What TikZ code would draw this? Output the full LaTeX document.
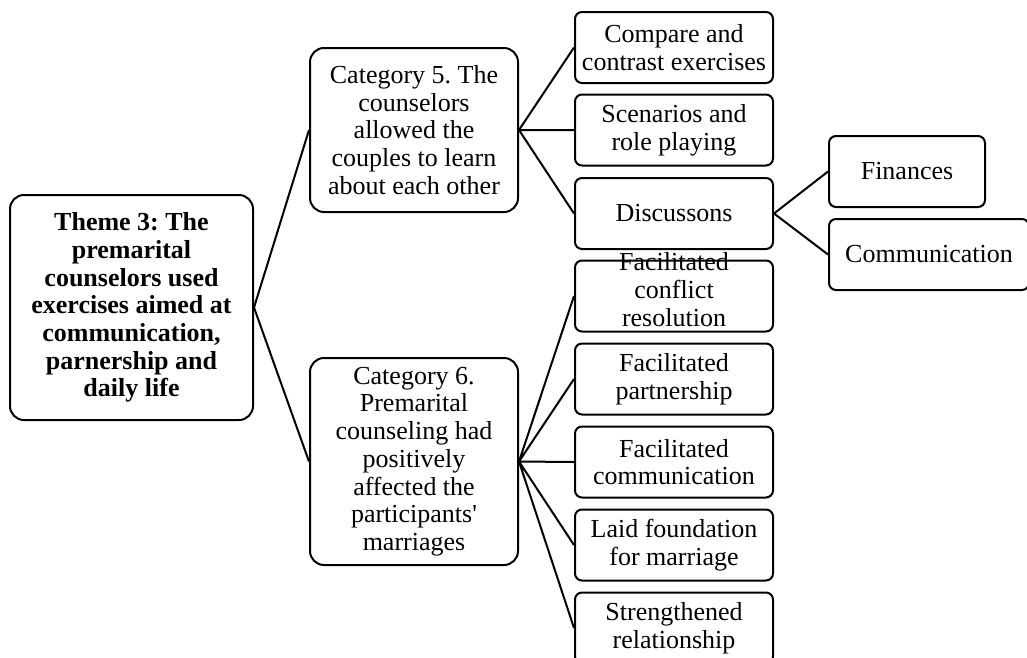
\documentclass[tikz,border=0pt]{standalone}
\usepackage{fontspec}
\setmainfont{Liberation Serif}
\frenchspacing
\tikzset{theme/.style={draw=black, line width=2pt, rounded corners=14pt, align=center, minimum width=243, minimum height=225, inner sep=2pt, font=\bfseries\fontsize{26}{27.7}\selectfont}}
\tikzset{cat/.style={draw=black, line width=2pt, rounded corners=14pt, align=center, minimum width=208, inner sep=2pt, font=\fontsize{26}{27.7}\selectfont}}
\tikzset{leaf/.style={draw=black, line width=2pt, rounded corners=7pt, align=center, minimum width=198, minimum height=71, inner sep=2pt, font=\fontsize{26}{27.7}\selectfont}}
\tikzset{link/.style={line width=2pt}}

\begin{document}
\begin{tikzpicture}[x=1pt, y=-1pt]
\useasboundingbox (0,0) rectangle (1027,657);
\node (theme) at (131.5,307.5) [theme] {Theme 3: The\\premarital\\counselors used\\exercises aimed at\\communication,\\parnership and\\daily life};
\node (cat5) at (414,130) [cat, minimum height=164] {Category 5. The\\counselors\\allowed the\\couples to learn\\about each other};
\node (cat6) at (414,461.5) [cat, minimum height=207] {Category 6.\\Premarital\\counseling had\\positively\\affected the\\participants\textquotesingle\\marriages};
\node (compare) at (674,47.5) [leaf] {Compare and\\contrast exercises};
\node (scen) at (674,130) [leaf] {Scenarios and\\role playing};
\node (disc) at (674,213.5) [leaf] {Discussons};
\node (conflict) at (674,296) [leaf] {\smash{\parbox{190pt}{\centering Facilitated\\conflict\\resolution}}};
\node (partner) at (674,379) [leaf] {Facilitated\\partnership};
\node (commun) at (674,462) [leaf] {Facilitated\\communication};
\node (laid) at (674,545) [leaf] {Laid foundation\\for marriage};
\node (strength) at (674,628) [leaf] {Strengthened\\relationship};
\node (fin) at (907,171.5) [leaf, minimum width=156] {Finances};
\node (comm) at (929,254.5) [leaf, minimum width=200] {Communication};
\draw[link] (theme.east)--(cat5.west) (theme.east)--(cat6.west);
\draw[link] (cat5.east)--(compare.west) (cat5.east)--(scen.west) (cat5.east)--(disc.west);
\draw[link] (cat6.east)--(conflict.west) (cat6.east)--(partner.west) (cat6.east)--(commun.west) (cat6.east)--(laid.west) (cat6.east)--(strength.west);
\draw[link] (disc.east)--(fin.west) (disc.east)--(comm.west);
\end{tikzpicture}
\end{document}
